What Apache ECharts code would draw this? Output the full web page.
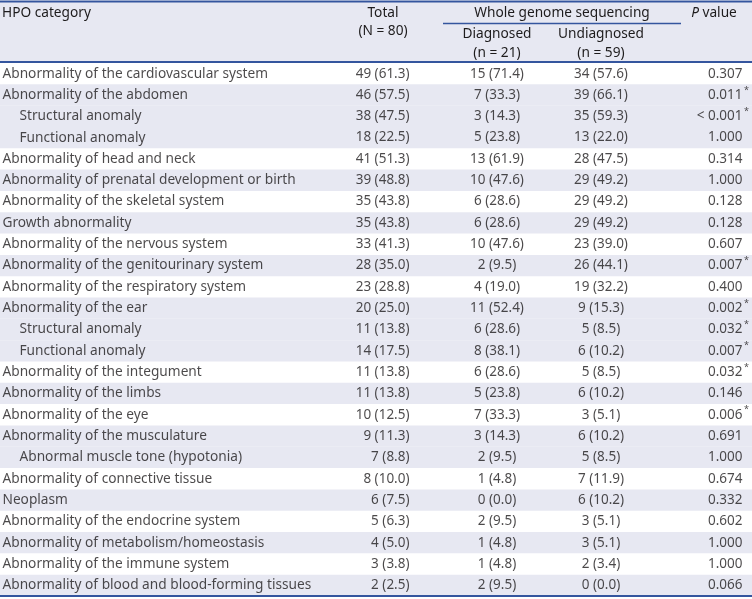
<!DOCTYPE html>
<html><head><meta charset="utf-8">
<script src="https://cdn.jsdelivr.net/npm/echarts@6/dist/echarts.min.js"></script>
<style>html,body{margin:0;padding:0;background:#fff}#c{width:752px;height:599px}</style>
</head><body><div id="c"></div>
<script>
const categories = [
  "Abnormality of the cardiovascular system",
  "Abnormality of the abdomen",
  "Structural anomaly",
  "Functional anomaly",
  "Abnormality of head and neck",
  "Abnormality of prenatal development or birth",
  "Abnormality of the skeletal system",
  "Growth abnormality",
  "Abnormality of the nervous system",
  "Abnormality of the genitourinary system",
  "Abnormality of the respiratory system",
  "Abnormality of the ear",
  "Structural anomaly",
  "Functional anomaly",
  "Abnormality of the integument",
  "Abnormality of the limbs",
  "Abnormality of the eye",
  "Abnormality of the musculature",
  "Abnormal muscle tone (hypotonia)",
  "Abnormality of connective tissue",
  "Neoplasm",
  "Abnormality of the endocrine system",
  "Abnormality of metabolism/homeostasis",
  "Abnormality of the immune system",
  "Abnormality of blood and blood-forming tissues"
];
const level = [0,0,1,1,0,0,0,0,0,0,0,0,1,1,0,0,0,0,1,0,0,0,0,0,0];
const totalN   = [49,46,38,18,41,39,35,35,33,28,23,20,11,14,11,11,10,9,7,8,6,5,4,3,2];
const totalPct = [61.3,57.5,47.5,22.5,51.3,48.8,43.8,43.8,41.3,35.0,28.8,25.0,13.8,17.5,13.8,13.8,12.5,11.3,8.8,10.0,7.5,6.3,5.0,3.8,2.5];
const diagN    = [15,7,3,5,13,10,6,6,10,2,4,11,6,8,6,5,7,3,2,1,0,2,1,1,2];
const diagPct  = [71.4,33.3,14.3,23.8,61.9,47.6,28.6,28.6,47.6,9.5,19.0,52.4,28.6,38.1,28.6,23.8,33.3,14.3,9.5,4.8,0.0,9.5,4.8,4.8,9.5];
const undiagN  = [34,39,35,13,28,29,29,29,23,26,19,9,5,6,5,6,3,6,5,7,6,3,3,2,0];
const undiagPct= [57.6,66.1,59.3,22.0,47.5,49.2,49.2,49.2,39.0,44.1,32.2,15.3,8.5,10.2,8.5,10.2,5.1,10.2,8.5,11.9,10.2,5.1,5.1,3.4,0.0];
const pValues  = ["0.307","0.011","< 0.001","1.000","0.314","1.000","0.128","0.128","0.607","0.007","0.400","0.002","0.032","0.007","0.032","0.146","0.006","0.691","1.000","0.674","0.332","0.602","1.000","1.000","0.066"];
const significant = [0,1,1,0,0,0,0,0,0,1,0,1,1,1,1,0,1,0,0,0,0,0,0,0,0];
const headers = {
  category: "HPO category",
  total: ["Total", "(N = 80)"],
  group: "Whole genome sequencing",
  diag: ["Diagnosed", "(n = 21)"],
  undiag: ["Undiagnosed", "(n = 59)"],
  pItalic: "P",
  pRest: " value"
};

const W = 752, TOP = 63, BOTTOM = 596;
const FONT = "'Noto Sans', sans-serif";
const FS = 13.7;
const NFS = 13.5;
const textColor = '#1e1c1d';
const lineColor = '#34559e';
const fillColor = '#e7e8f2';

let grp = -1;
const shade = level.map(l => { if (l === 0) grp++; return grp % 2 === 1; });
const fmt = (c, p) => c + ' (' + p.toFixed(1) + ')';

function textSeries(xFn, texts, pos, extraLabel) {
  return {
    type: 'scatter', symbolSize: 1, silent: true, z: 5,
    itemStyle: { color: 'transparent' },
    data: texts.map((t, i) => ({ value: [xFn(i), i], label: { formatter: t } })),
    label: Object.assign({ show: true, position: pos, distance: 0, color: textColor,
      fontFamily: FONT, fontSize: FS }, extraLabel || {})
  };
}
const numStyle = { fontSize: NFS };

const chart = echarts.init(document.getElementById('c'));
chart.setOption({
  animation: false,
  grid: { left: 0, right: 0, top: TOP, bottom: 599 - BOTTOM },
  xAxis: { type: 'value', min: 0, max: W, show: false },
  yAxis: { type: 'category', data: categories.map((c, i) => i), inverse: true, show: false },
  series: [
    { type: 'bar', silent: true, barCategoryGap: 0, z: 1,
      itemStyle: { color: fillColor },
      data: shade.map(s => s ? W : '-') },
    textSeries(i => level[i] ? 19 : 2, categories, 'right'),
    textSeries(() => 410, totalN.map((v, i) => fmt(v, totalPct[i])), 'left', numStyle),
    textSeries(() => 497, diagN.map((v, i) => fmt(v, diagPct[i])), 'inside', numStyle),
    textSeries(() => 601, undiagN.map((v, i) => fmt(v, undiagPct[i])), 'inside', numStyle),
    textSeries(() => 743, pValues, 'left', numStyle),
    textSeries(() => 743.5, significant.map(s => s ? '*' : ''), 'right', { fontSize: 9, offset: [0, -5] })
  ],
  graphic: [
    { type: 'rect', shape: { x: 0, y: 2, width: W, height: TOP - 3 }, style: { fill: fillColor }, z: 0 },
    { type: 'line', shape: { x1: 0, y1: 1.5, x2: W, y2: 1.5 }, style: { stroke: lineColor, lineWidth: 2 }, z: 10 },
    { type: 'line', shape: { x1: 0, y1: 62, x2: W, y2: 62 }, style: { stroke: lineColor, lineWidth: 2 }, z: 10 },
    { type: 'line', shape: { x1: 0, y1: 596, x2: W, y2: 596 }, style: { stroke: lineColor, lineWidth: 2 }, z: 10 },
    { type: 'line', shape: { x1: 443, y1: 23.5, x2: 681, y2: 23.5 }, style: { stroke: lineColor, lineWidth: 1.5 }, z: 10 },
    { type: 'text', x: 2, y: 13, style: { text: headers.category, font: FS + 'px ' + FONT, fill: textColor, textVerticalAlign: 'middle' }, z: 10 },
    { type: 'text', x: 383, y: 13, style: { text: headers.total[0], font: FS + 'px ' + FONT, fill: textColor, textAlign: 'center', textVerticalAlign: 'middle' }, z: 10 },
    { type: 'text', x: 383, y: 31, style: { text: headers.total[1], font: FS + 'px ' + FONT, fill: textColor, textAlign: 'center', textVerticalAlign: 'middle' }, z: 10 },
    { type: 'text', x: 562, y: 13, style: { text: headers.group, font: FS + 'px ' + FONT, fill: textColor, textAlign: 'center', textVerticalAlign: 'middle' }, z: 10 },
    { type: 'text', x: 497, y: 34, style: { text: headers.diag[0], font: FS + 'px ' + FONT, fill: textColor, textAlign: 'center', textVerticalAlign: 'middle' }, z: 10 },
    { type: 'text', x: 497, y: 53, style: { text: headers.diag[1], font: FS + 'px ' + FONT, fill: textColor, textAlign: 'center', textVerticalAlign: 'middle' }, z: 10 },
    { type: 'text', x: 601, y: 34, style: { text: headers.undiag[0], font: FS + 'px ' + FONT, fill: textColor, textAlign: 'center', textVerticalAlign: 'middle' }, z: 10 },
    { type: 'text', x: 601, y: 53, style: { text: headers.undiag[1], font: FS + 'px ' + FONT, fill: textColor, textAlign: 'center', textVerticalAlign: 'middle' }, z: 10 },
    { type: 'text', x: 714, y: 13, style: { text: '{i|' + headers.pItalic + '}' + headers.pRest, font: FS + 'px ' + FONT, fill: textColor, textAlign: 'center', textVerticalAlign: 'middle',
        rich: { i: { fontStyle: 'italic', fontFamily: FONT, fontSize: FS, fill: textColor } } }, z: 10 }
  ]
});
</script></body></html>
